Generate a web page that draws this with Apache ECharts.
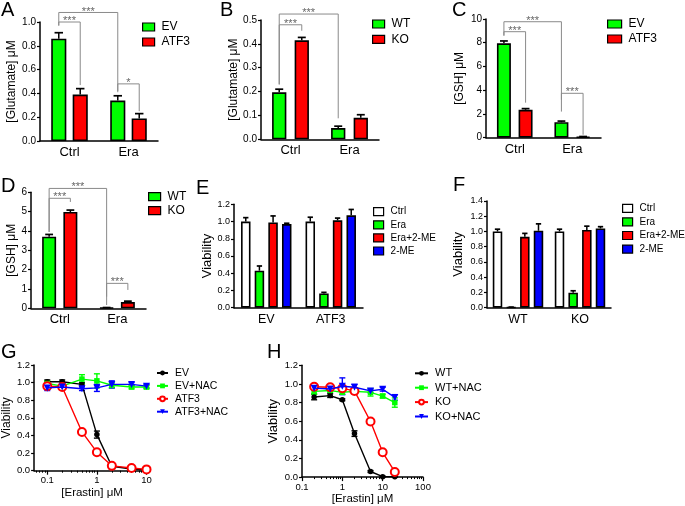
<!DOCTYPE html>
<html><head><meta charset="utf-8">
<script src="https://cdn.jsdelivr.net/npm/echarts@6/dist/echarts.min.js"></script>
<style>html,body{margin:0;padding:0;background:#fff}#c{width:685px;height:506px}</style>
</head><body><div id="c"></div>
<script>
// ---------- DATA ----------
// Panel A
const catsA = ['Ctrl', 'Era'];
const namesA = ['EV', 'ATF3'];
const valsA_EV = [0.86, 0.34];   const errsA_EV = [0.05, 0.04];
const valsA_ATF3 = [0.39, 0.19]; const errsA_ATF3 = [0.05, 0.04];
const bracketsA = [[0,0,1,0,1.08,0.97,0.41],[0,0,0,1,1.0,0.97,0.47],[1,0,1,1,0.48,0.42,0.25]];
const bracketTextA = ['***','***','*'];
// Panel B
const catsB = ['Ctrl', 'Era'];
const namesB = ['WT', 'KO'];
const valsB_WT = [0.197, 0.047]; const errsB_WT = [0.013, 0.008];
const valsB_KO = [0.415, 0.09];  const errsB_KO = [0.012, 0.013];
const bracketsB = [[0,0,1,0,0.525,0.23,0.088],[0,0,0,1,0.48,0.23,0.455]];
const bracketTextB = ['***','***'];
// Panel C
const catsC = ['Ctrl', 'Era'];
const namesC = ['EV', 'ATF3'];
const valsC_EV = [7.95, 1.3];   const errsC_EV = [0.2, 0.1];
const valsC_ATF3 = [2.35, 0.07]; const errsC_ATF3 = [0.1, 0.03];
const bracketsC = [[0,0,1,0,9.77,8.6,2.2],[0,0,0,1,8.93,8.6,2.95],[1,0,1,1,3.74,3.2,0.25]];
const bracketTextC = ['***','***','***'];
// Panel D
const catsD = ['Ctrl', 'Era'];
const namesD = ['WT', 'KO'];
const valsD_WT = [3.7, 0.03];  const errsD_WT = [0.12, 0.01];
const valsD_KO = [4.98, 0.32]; const errsD_KO = [0.1, 0.05];
const bracketsD = [[0,0,1,0,6.2,3.95,0.17],[0,0,0,1,5.69,3.95,5.5],[1,0,1,1,1.29,0.6,0.95]];
const bracketTextD = ['***','***','***'];
// Panel E
const catsE = ['EV', 'ATF3'];
const namesE = ['Ctrl', 'Era', 'Era+2-ME', '2-ME'];
const valsE_Ctrl = [1.0, 1.0];    const errsE_Ctrl = [0.045, 0.05];
const valsE_Era = [0.43, 0.166];  const errsE_Era = [0.054, 0.012];
const valsE_EraME = [0.99, 1.014]; const errsE_EraME = [0.075, 0.026];
const valsE_ME = [0.97, 1.072];   const errsE_ME = [0.01, 0.068];
// Panel F
const catsF = ['WT', 'KO'];
const namesF = ['Ctrl', 'Era', 'Era+2-ME', '2-ME'];
const valsF_Ctrl = [1.0, 1.0];    const errsF_Ctrl = [0.03, 0.03];
const valsF_Era = [0.005, 0.197]; const errsF_Era = [0.003, 0.025];
const valsF_EraME = [0.93, 1.02]; const errsF_EraME = [0.045, 0.05];
const valsF_ME = [1.01, 1.04];    const errsF_ME = [0.09, 0.023];
// Panel G
const concG = [0.1, 0.2, 0.5, 1, 2, 5, 10];
const namesG = ['EV', 'EV+NAC', 'ATF3', 'ATF3+NAC'];
const valsG_EV = [1.01, 1.01, 0.98, 0.41, 0.05, 0.02, 0.01];
const errsG_EV = [0.02, 0.02, 0.02, 0.04, 0.01, 0.01, 0.01];
const valsG_EVNAC = [0.99, 0.96, 1.04, 1.02, 0.97, 0.95, 0.95];
const errsG_EVNAC = [0.03, 0.02, 0.05, 0.08, 0.03, 0.02, 0.02];
const valsG_ATF3 = [0.96, 0.95, 0.44, 0.21, 0.055, 0.03, 0.015];
const errsG_ATF3 = [0.02, 0.02, 0.02, 0.01, 0.01, 0.01, 0.01];
const valsG_ATF3NAC = [0.94, 0.95, 0.93, 0.94, 0.98, 0.98, 0.96];
const errsG_ATF3NAC = [0.03, 0.03, 0.02, 0.04, 0.04, 0.02, 0.02];
const tickValsG = [0.1, 1, 10]; const tickLabelsG = ['0.1', '1', '10'];
// Panel H
const concH = [0.2, 0.5, 1, 2, 5, 10, 20];
const namesH = ['WT', 'WT+NAC', 'KO', 'KO+NAC'];
const valsH_WT = [0.86, 0.875, 0.83, 0.467, 0.06, 0.005, 0.003];
const errsH_WT = [0.03, 0.02, 0.01, 0.03, 0.01, 0.005, 0.005];
const valsH_WTNAC = [0.92, 0.93, 0.91, 0.92, 0.91, 0.87, 0.80];
const errsH_WTNAC = [0.03, 0.02, 0.02, 0.02, 0.04, 0.02, 0.05];
const valsH_KO = [0.97, 0.965, 0.953, 0.925, 0.597, 0.266, 0.055];
const errsH_KO = [0.03, 0.02, 0.02, 0.03, 0.01, 0.01, 0.01];
const valsH_KONAC = [0.955, 0.945, 0.975, 0.965, 0.925, 0.943, 0.855];
const errsH_KONAC = [0.02, 0.02, 0.09, 0.03, 0.02, 0.02, 0.03];
const tickValsH = [0.1, 1, 10, 100]; const tickLabelsH = ['0.1', '1', '10', '100'];

// ---------- BUILD ----------
const FONT = "'Liberation Sans', Arial, Helvetica, sans-serif";
const GREEN = '#00ff00', RED = '#ff0000', BLUE = '#0000ff', WHITE = '#ffffff', BLACK = '#000000';

const opt = { animation: false, backgroundColor: '#fff', textStyle: { fontFamily: FONT },
  grid: [], xAxis: [], yAxis: [], series: [], legend: [], title: [] };

function barErr(k, n, bw, gap) {
  return function (params, api) {
    const c = api.value(0), v = api.value(1), e = api.value(2);
    const band = api.size([1, 0])[0];
    const off = (k - (n - 1) / 2) * bw * (1 + gap) * band;
    const p0 = api.coord([c, v]), p1 = api.coord([c, v + e]);
    const x = p0[0] + off, ch = bw * band * 0.28;
    return { type: 'group', children: [
      { type: 'line', shape: { x1: x, y1: p0[1], x2: x, y2: p1[1] }, style: { stroke: '#000', lineWidth: 1.5 } },
      { type: 'line', shape: { x1: x - ch, y1: p1[1], x2: x + ch, y2: p1[1] }, style: { stroke: '#000', lineWidth: 1.7 } }
    ] };
  };
}
function bracketRender(n, bw, gap, texts) {
  return function (params, api) {
    const c1 = api.value(0), s1 = api.value(1), c2 = api.value(2), s2 = api.value(3);
    const yT = api.value(4), yL = api.value(5), yR = api.value(6);
    const band = api.size([1, 0])[0];
    const step = bw * (1 + gap) * band;
    const x1 = api.coord([c1, 0])[0] + (s1 - (n - 1) / 2) * step;
    const x2 = api.coord([c2, 0])[0] + (s2 - (n - 1) / 2) * step;
    const pT = api.coord([c1, yT])[1], pL = api.coord([c1, yL])[1], pR = api.coord([c1, yR])[1];
    return { type: 'group', children: [
      { type: 'polyline', shape: { points: [[x1, pL], [x1, pT], [x2, pT], [x2, pR]] }, style: { stroke: '#8a8a8a', lineWidth: 1, fill: null } },
      { type: 'text', style: { text: texts[params.dataIndex], x: (x1 + x2) / 2, y: pT - 1, align: 'center', verticalAlign: 'middle', fontSize: 11, fill: '#666', fontFamily: FONT } }
    ] };
  };
}
function lineErr(color) {
  return function (params, api) {
    const x = api.value(0), y = api.value(1), e = api.value(2);
    const p1 = api.coord([x, y + e]), p2 = api.coord([x, y - e]);
    const w = 3;
    const st = { stroke: color, lineWidth: 1.4 };
    return { type: 'group', children: [
      { type: 'line', shape: { x1: p1[0], y1: p1[1], x2: p2[0], y2: p2[1] }, style: st },
      { type: 'line', shape: { x1: p1[0] - w, y1: p1[1], x2: p1[0] + w, y2: p1[1] }, style: st },
      { type: 'line', shape: { x1: p2[0] - w, y1: p2[1], x2: p2[0] + w, y2: p2[1] }, style: st }
    ] };
  };
}
function addTitle(letter, left, top) {
  opt.title.push({ text: letter, left: left, top: top, padding: 0,
    textStyle: { fontSize: 20, fontWeight: 'normal', color: '#000', fontFamily: FONT } });
}
function yAxisCfg(gi, p) {
  return { type: 'value', gridIndex: gi, min: 0, max: p.yMax, interval: p.yInt,
    name: p.yName, nameLocation: 'middle', nameGap: p.nameGap, nameRotate: 90,
    nameTextStyle: { fontSize: p.nameFont, color: '#000', fontFamily: FONT },
    axisLine: { show: true, onZero: false, lineStyle: { color: '#000', width: 1.5 } },
    axisTick: { show: true, length: 3, lineStyle: { color: '#000', width: 1.2 } },
    axisLabel: { formatter: v => v.toFixed(p.dec), fontSize: p.tickFont, color: '#000', margin: 4, fontFamily: FONT },
    splitLine: { show: false } };
}
function addBarPanel(p) {
  const gi = opt.grid.length;
  opt.grid.push(Object.assign({ containLabel: false }, p.grid));
  opt.xAxis.push({ type: 'category', gridIndex: gi, data: p.cats,
    axisLine: { lineStyle: { color: '#000', width: 1.5 } },
    axisTick: { alignWithLabel: true, length: 3, lineStyle: { color: '#000', width: 1.2 } },
    axisLabel: { color: '#000', fontSize: p.catFont, margin: 5, fontFamily: FONT },
    splitLine: { show: false } });
  opt.yAxis.push(yAxisCfg(gi, p));
  const n = p.names.length;
  p.names.forEach((nm, k) => {
    opt.series.push({ type: 'bar', name: p.id + '|' + nm, xAxisIndex: gi, yAxisIndex: gi, data: p.vals[k],
      barWidth: (p.bw * 100) + '%', barGap: (p.gap * 100) + '%', silent: true,
      itemStyle: { color: p.colors[k], borderColor: '#000', borderWidth: 1.6 } });
  });
  p.names.forEach((nm, k) => {
    opt.series.push({ type: 'custom', name: p.id + '|err' + k, xAxisIndex: gi, yAxisIndex: gi,
      data: p.vals[k].map((v, i) => [i, v, p.errs[k][i]]), encode: { x: 0, y: 1 },
      renderItem: barErr(k, n, p.bw, p.gap), silent: true, z: 3, clip: false });
  });
  if (p.brackets) {
    opt.series.push({ type: 'custom', name: p.id + '|br', xAxisIndex: gi, yAxisIndex: gi,
      data: p.brackets, encode: { x: 0, y: 4 }, renderItem: bracketRender(n, p.bw, p.gap, p.bracketText),
      silent: true, z: 4, clip: false });
  }
  opt.legend.push(Object.assign({ data: p.names.map(nm => p.id + '|' + nm), formatter: s => s.split('|')[1],
    orient: 'vertical', icon: 'rect', padding: 0, selectedMode: false,
    itemStyle: { borderColor: '#000', borderWidth: 1.2 },
    textStyle: { fontSize: p.legFont, color: '#000', fontFamily: FONT, padding: [0, 0, 0, 2] } }, p.legend));
}
function addLinePanel(p) {
  const gi = opt.grid.length;
  opt.grid.push(Object.assign({ containLabel: false }, p.grid));
  const xi = opt.xAxis.length;
  const major = p.tickVals.map(v => Math.log10(v));
  const minor = [];
  for (let d = Math.floor(p.xMin); d <= Math.ceil(p.xMax); d++) {
    for (let k = 2; k <= 9; k++) { const lv = d + Math.log10(k); if (lv >= p.xMin && lv <= p.xMax) minor.push(lv); }
  }
  opt.xAxis.push({ type: 'value', gridIndex: gi, position: 'bottom', min: p.xMin, max: p.xMax,
    name: p.xName, nameLocation: 'middle', nameGap: p.xNameGap,
    nameTextStyle: { fontSize: p.xNameFont, color: '#000', fontFamily: FONT },
    axisLine: { show: true, onZero: false, lineStyle: { color: '#000', width: 1.5 } },
    axisTick: { show: true, length: 4, customValues: major, lineStyle: { color: '#000', width: 1.2 } },
    axisLabel: { customValues: major, fontSize: p.tickFont, color: '#000', margin: 5, fontFamily: FONT,
      formatter: v => { const i = major.findIndex(m => Math.abs(m - v) < 1e-6); return i >= 0 ? p.tickLabels[i] : ''; } },
    splitLine: { show: false } });
  opt.xAxis.push({ type: 'value', gridIndex: gi, position: 'bottom', offset: 0, min: p.xMin, max: p.xMax,
    axisLine: { show: false, onZero: false },
    axisTick: { show: true, length: 2, customValues: minor, lineStyle: { color: '#000' } },
    axisLabel: { show: false }, splitLine: { show: false } });
  opt.yAxis.push(yAxisCfg(gi, p));
  p.names.forEach((nm, k) => {
    const s = p.styles[k];
    opt.series.push({ type: 'custom', name: p.id + '|err' + k, xAxisIndex: xi, yAxisIndex: gi,
      data: p.conc.map((c, i) => [Math.log10(c), p.vals[k][i], p.errs[k][i]]), encode: { x: 0, y: 1 },
      renderItem: lineErr(s.color), silent: true, z: 2, clip: false });
  });
  p.names.forEach((nm, k) => {
    const s = p.styles[k];
    opt.series.push({ type: 'line', name: p.id + '|' + nm, xAxisIndex: xi, yAxisIndex: gi,
      data: p.conc.map((c, i) => [Math.log10(c), p.vals[k][i]]),
      symbol: s.symbol, symbolSize: s.size, symbolRotate: s.rotate || 0, showAllSymbol: true,
      lineStyle: { color: s.color, width: 1.4 },
      itemStyle: { color: s.color, borderColor: s.color, borderWidth: s.bw || 0 },
      silent: true, z: 3 + k });
  });
  opt.legend.push(Object.assign({ data: p.names.map(nm => p.id + '|' + nm), formatter: s => s.split('|')[1],
    orient: 'vertical', padding: 0, selectedMode: false,
    textStyle: { fontSize: p.legFont, color: '#000', fontFamily: FONT, padding: [0, 0, 0, 2] } }, p.legend));
}

const lineStyles = [
  { color: BLACK, symbol: 'circle', size: 5.5 },
  { color: GREEN, symbol: 'rect', size: 5.5 },
  { color: RED, symbol: 'emptyCircle', size: 8, bw: 1.6 },
  { color: BLUE, symbol: 'triangle', size: 7, rotate: 180 }
];

addBarPanel({ id: 'A', grid: { left: 40, top: 22, width: 118, height: 119 }, cats: catsA, names: namesA,
  colors: [GREEN, RED], vals: [valsA_EV, valsA_ATF3], errs: [errsA_EV, errsA_ATF3],
  brackets: bracketsA, bracketText: bracketTextA, bw: 0.256, gap: 0.42,
  yMax: 1.0, yInt: 0.2, dec: 1, yName: '[Glutamate] μM', nameGap: 22, nameFont: 12, tickFont: 10, catFont: 13,
  legFont: 12, legend: { left: 142, top: 21, itemWidth: 12, itemHeight: 8, itemGap: 3 } });
addBarPanel({ id: 'B', grid: { left: 261, top: 20, width: 118, height: 119.3 }, cats: catsB, names: namesB,
  colors: [GREEN, RED], vals: [valsB_WT, valsB_KO], errs: [errsB_WT, errsB_KO],
  brackets: bracketsB, bracketText: bracketTextB, bw: 0.242, gap: 0.58,
  yMax: 0.5, yInt: 0.1, dec: 1, yName: '[Glutamate] μM', nameGap: 20, nameFont: 12, tickFont: 10, catFont: 13,
  legFont: 12, legend: { left: 372, top: 18, itemWidth: 12, itemHeight: 8, itemGap: 3.3 } });
addBarPanel({ id: 'C', grid: { left: 486, top: 19, width: 115, height: 118.7 }, cats: catsC, names: namesC,
  colors: [GREEN, RED], vals: [valsC_EV, valsC_ATF3], errs: [errsC_EV, errsC_ATF3],
  brackets: bracketsC, bracketText: bracketTextC, bw: 0.243, gap: 0.55,
  yMax: 10, yInt: 2, dec: 0, yName: '[GSH] μM', nameGap: 20, nameFont: 12, tickFont: 10, catFont: 13,
  legFont: 12, legend: { left: 607, top: 18, itemWidth: 14, itemHeight: 8, itemGap: 3 } });
addBarPanel({ id: 'D', grid: { left: 31, top: 192.3, width: 115, height: 116 }, cats: catsD, names: namesD,
  colors: [GREEN, RED], vals: [valsD_WT, valsD_KO], errs: [errsD_WT, errsD_KO],
  brackets: bracketsD, bracketText: bracketTextD, bw: 0.243, gap: 0.52,
  yMax: 6, yInt: 1, dec: 0, yName: '[GSH] μM', nameGap: 10, nameFont: 12, tickFont: 10, catFont: 13,
  legFont: 12, legend: { left: 148, top: 190.7, itemWidth: 12, itemHeight: 8, itemGap: 2 } });
addBarPanel({ id: 'E', grid: { left: 234, top: 204.3, width: 129, height: 103.4 }, cats: catsE, names: namesE,
  colors: [WHITE, GREEN, RED, BLUE], vals: [valsE_Ctrl, valsE_Era, valsE_EraME, valsE_ME],
  errs: [errsE_Ctrl, errsE_Era, errsE_EraME, errsE_ME], bw: 0.147, gap: 0.44,
  yMax: 1.2, yInt: 0.2, dec: 1, yName: 'Viability', nameGap: 20, nameFont: 13, tickFont: 9, catFont: 12.5,
  legFont: 10, legend: { left: 373, top: 206.7, itemWidth: 10, itemHeight: 8, itemGap: 3.1 } });
addBarPanel({ id: 'F', grid: { left: 487, top: 201, width: 124, height: 106.7 }, cats: catsF, names: namesF,
  colors: [WHITE, GREEN, RED, BLUE], vals: [valsF_Ctrl, valsF_Era, valsF_EraME, valsF_ME],
  errs: [errsF_Ctrl, errsF_Era, errsF_EraME, errsF_ME], bw: 0.153, gap: 0.44,
  yMax: 1.4, yInt: 0.2, dec: 1, yName: 'Viability', nameGap: 22, nameFont: 13, tickFont: 9, catFont: 12.5,
  legFont: 10, legend: { left: 622, top: 203.3, itemWidth: 10, itemHeight: 8, itemGap: 3.6 } });
addLinePanel({ id: 'G', grid: { left: 31, top: 365, width: 119, height: 105.7 }, conc: concG, names: namesG,
  vals: [valsG_EV, valsG_EVNAC, valsG_ATF3, valsG_ATF3NAC], errs: [errsG_EV, errsG_EVNAC, errsG_ATF3, errsG_ATF3NAC],
  styles: lineStyles, xMin: -1.265, xMax: 1.07, tickVals: tickValsG, tickLabels: tickLabelsG,
  xName: '[Erastin] μM', xNameGap: 13, xNameFont: 11.5,
  yMax: 1.2, yInt: 0.2, dec: 1, yName: 'Viability', nameGap: 20, nameFont: 12, tickFont: 9.5,
  legFont: 10.5, legend: { left: 156, top: 367.5, itemWidth: 11, itemHeight: 6, itemGap: 1.9 } });
addLinePanel({ id: 'H', grid: { left: 302, top: 365.3, width: 121, height: 113.9 }, conc: concH, names: namesH,
  vals: [valsH_WT, valsH_WTNAC, valsH_KO, valsH_KONAC], errs: [errsH_WT, errsH_WTNAC, errsH_KO, errsH_KONAC],
  styles: lineStyles, xMin: -1, xMax: 2, tickVals: tickValsH, tickLabels: tickLabelsH,
  xName: '[Erastin] μM', xNameGap: 15, xNameFont: 11.5,
  yMax: 1.2, yInt: 0.2, dec: 1, yName: 'Viability', nameGap: 22, nameFont: 13, tickFont: 9.5,
  legFont: 11, legend: { left: 414, top: 367.8, itemWidth: 13, itemHeight: 6, itemGap: 3.4 } });

addTitle('A', 1, 0); addTitle('B', 220, 0); addTitle('C', 452, 0); addTitle('D', 1, 176);
addTitle('E', 196, 178); addTitle('F', 453, 175); addTitle('G', 1, 342); addTitle('H', 267, 342);

const chart = echarts.init(document.getElementById('c'), null, { renderer: 'canvas' });
chart.setOption(opt);
</script></body></html>
